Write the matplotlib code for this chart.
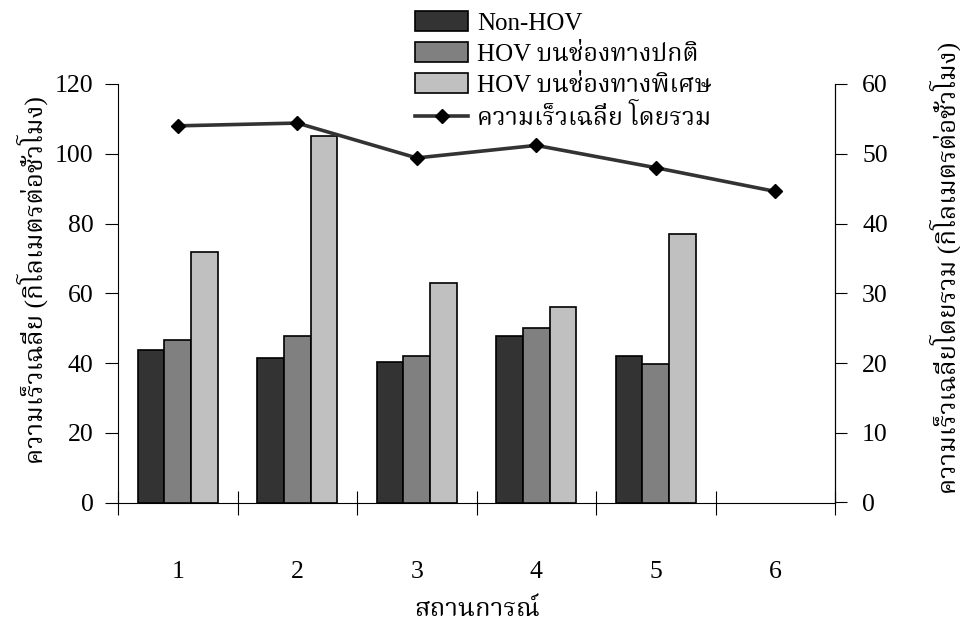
import matplotlib
matplotlib.use("Agg")
import matplotlib.pyplot as plt
import numpy as np

plt.rcParams['font.family'] = ['Liberation Serif', 'Noto Serif Thai', 'FreeSerif', 'DejaVu Sans']

categories = ['1', '2', '3', '4', '5', '6']
non_hov = [43.7, 41.5, 40.4, 47.7, 42.0, 0]
hov_normal = [46.6, 47.8, 42.0, 50.0, 39.7, 0]
hov_special = [71.9, 105.2, 63.0, 56.0, 77.1, 0]
avg_speed = [54.0, 54.4, 49.4, 51.2, 48.0, 44.6]

series_names = ['Non-HOV', 'HOV บนช่องทางปกติ', 'HOV บนช่องทางพิเศษ']
line_name = 'ความเร็วเฉลี่ย โดยรวม'
left_label = 'ความเร็วเฉลี่ย (กิโลเมตรต่อชั่วโมง)'
right_label = 'ความเร็วเฉลี่ยโดยรวม (กิโลเมตรต่อชั่วโมง)'
x_label = 'สถานการณ์'
left_ticks = [0, 20, 40, 60, 80, 100, 120]
right_ticks = [0, 10, 20, 30, 40, 50, 60]

W, H = 960, 628
fig = plt.figure(figsize=(W / 100, H / 100), dpi=100)
ax = fig.add_axes([118 / W, 1 - 502.5 / H, (835 - 118) / W, (502.5 - 84) / H])
ax2 = ax.twinx()

centers = np.arange(len(categories)) + 0.5
bw = 0.222
colors = ['#333333', '#808080', '#c0c0c0']
handles = []
for i, (vals, name, c) in enumerate(zip([non_hov, hov_normal, hov_special], series_names, colors)):
    v = np.array(vals, dtype=float)
    mask = v > 0
    b = ax.bar(centers[mask] + (i - 1) * bw, v[mask], width=bw, color=c,
               edgecolor='black', linewidth=1.2, label=name, zorder=2)
    handles.append(b)

ln, = ax2.plot(centers, avg_speed, color='#333333', linewidth=2.6, marker='D',
               markersize=7, markerfacecolor='black', markeredgecolor='black',
               label=line_name, zorder=3)
handles.append(ln)

ax.set_xlim(0, len(categories))
ax.set_ylim(0, 120)
ax2.set_ylim(0, 60)
ax.set_yticks(left_ticks)
ax2.set_yticks(right_ticks)

ax.set_xticks(np.arange(len(categories) + 1))
ax.set_xticklabels([])
ax.set_xticks(centers, minor=True)
ax.set_xticklabels(categories, minor=True)
ax.tick_params(axis='x', which='major', direction='inout', length=17, width=0.8)
ax.tick_params(axis='x', which='minor', length=0, pad=42, labelsize=18.5)
ax.tick_params(axis='y', direction='out', length=9.5, width=0.8, labelsize=18.5, pad=8)
ax2.tick_params(axis='y', direction='out', length=8.5, width=0.8, labelsize=18.5, pad=11)

for a in (ax, ax2):
    a.spines['top'].set_visible(False)
    for s in a.spines.values():
        s.set_linewidth(0.8)
ax2.spines['left'].set_visible(False)
ax2.spines['bottom'].set_visible(False)

fig.text(32 / W, 1 - 280 / H, left_label, rotation=90, ha='center', va='center', fontsize=18.5)
fig.text(945 / W, 1 - 268 / H, right_label, rotation=90, ha='center', va='center', fontsize=18.5)
fig.text(477 / W, 1 - 610 / H, x_label, ha='center', va='center', fontsize=18.5)

fig.legend(handles=handles, labels=series_names + [line_name], loc='upper left',
           bbox_to_anchor=(415 / W, 1 - 11 / H), frameon=False, fontsize=18,
           borderpad=0, borderaxespad=0, handlelength=2.12, handleheight=0.84,
           handletextpad=0.36, labelspacing=0.3, numpoints=1)

fig.savefig('out.png', dpi=100)
